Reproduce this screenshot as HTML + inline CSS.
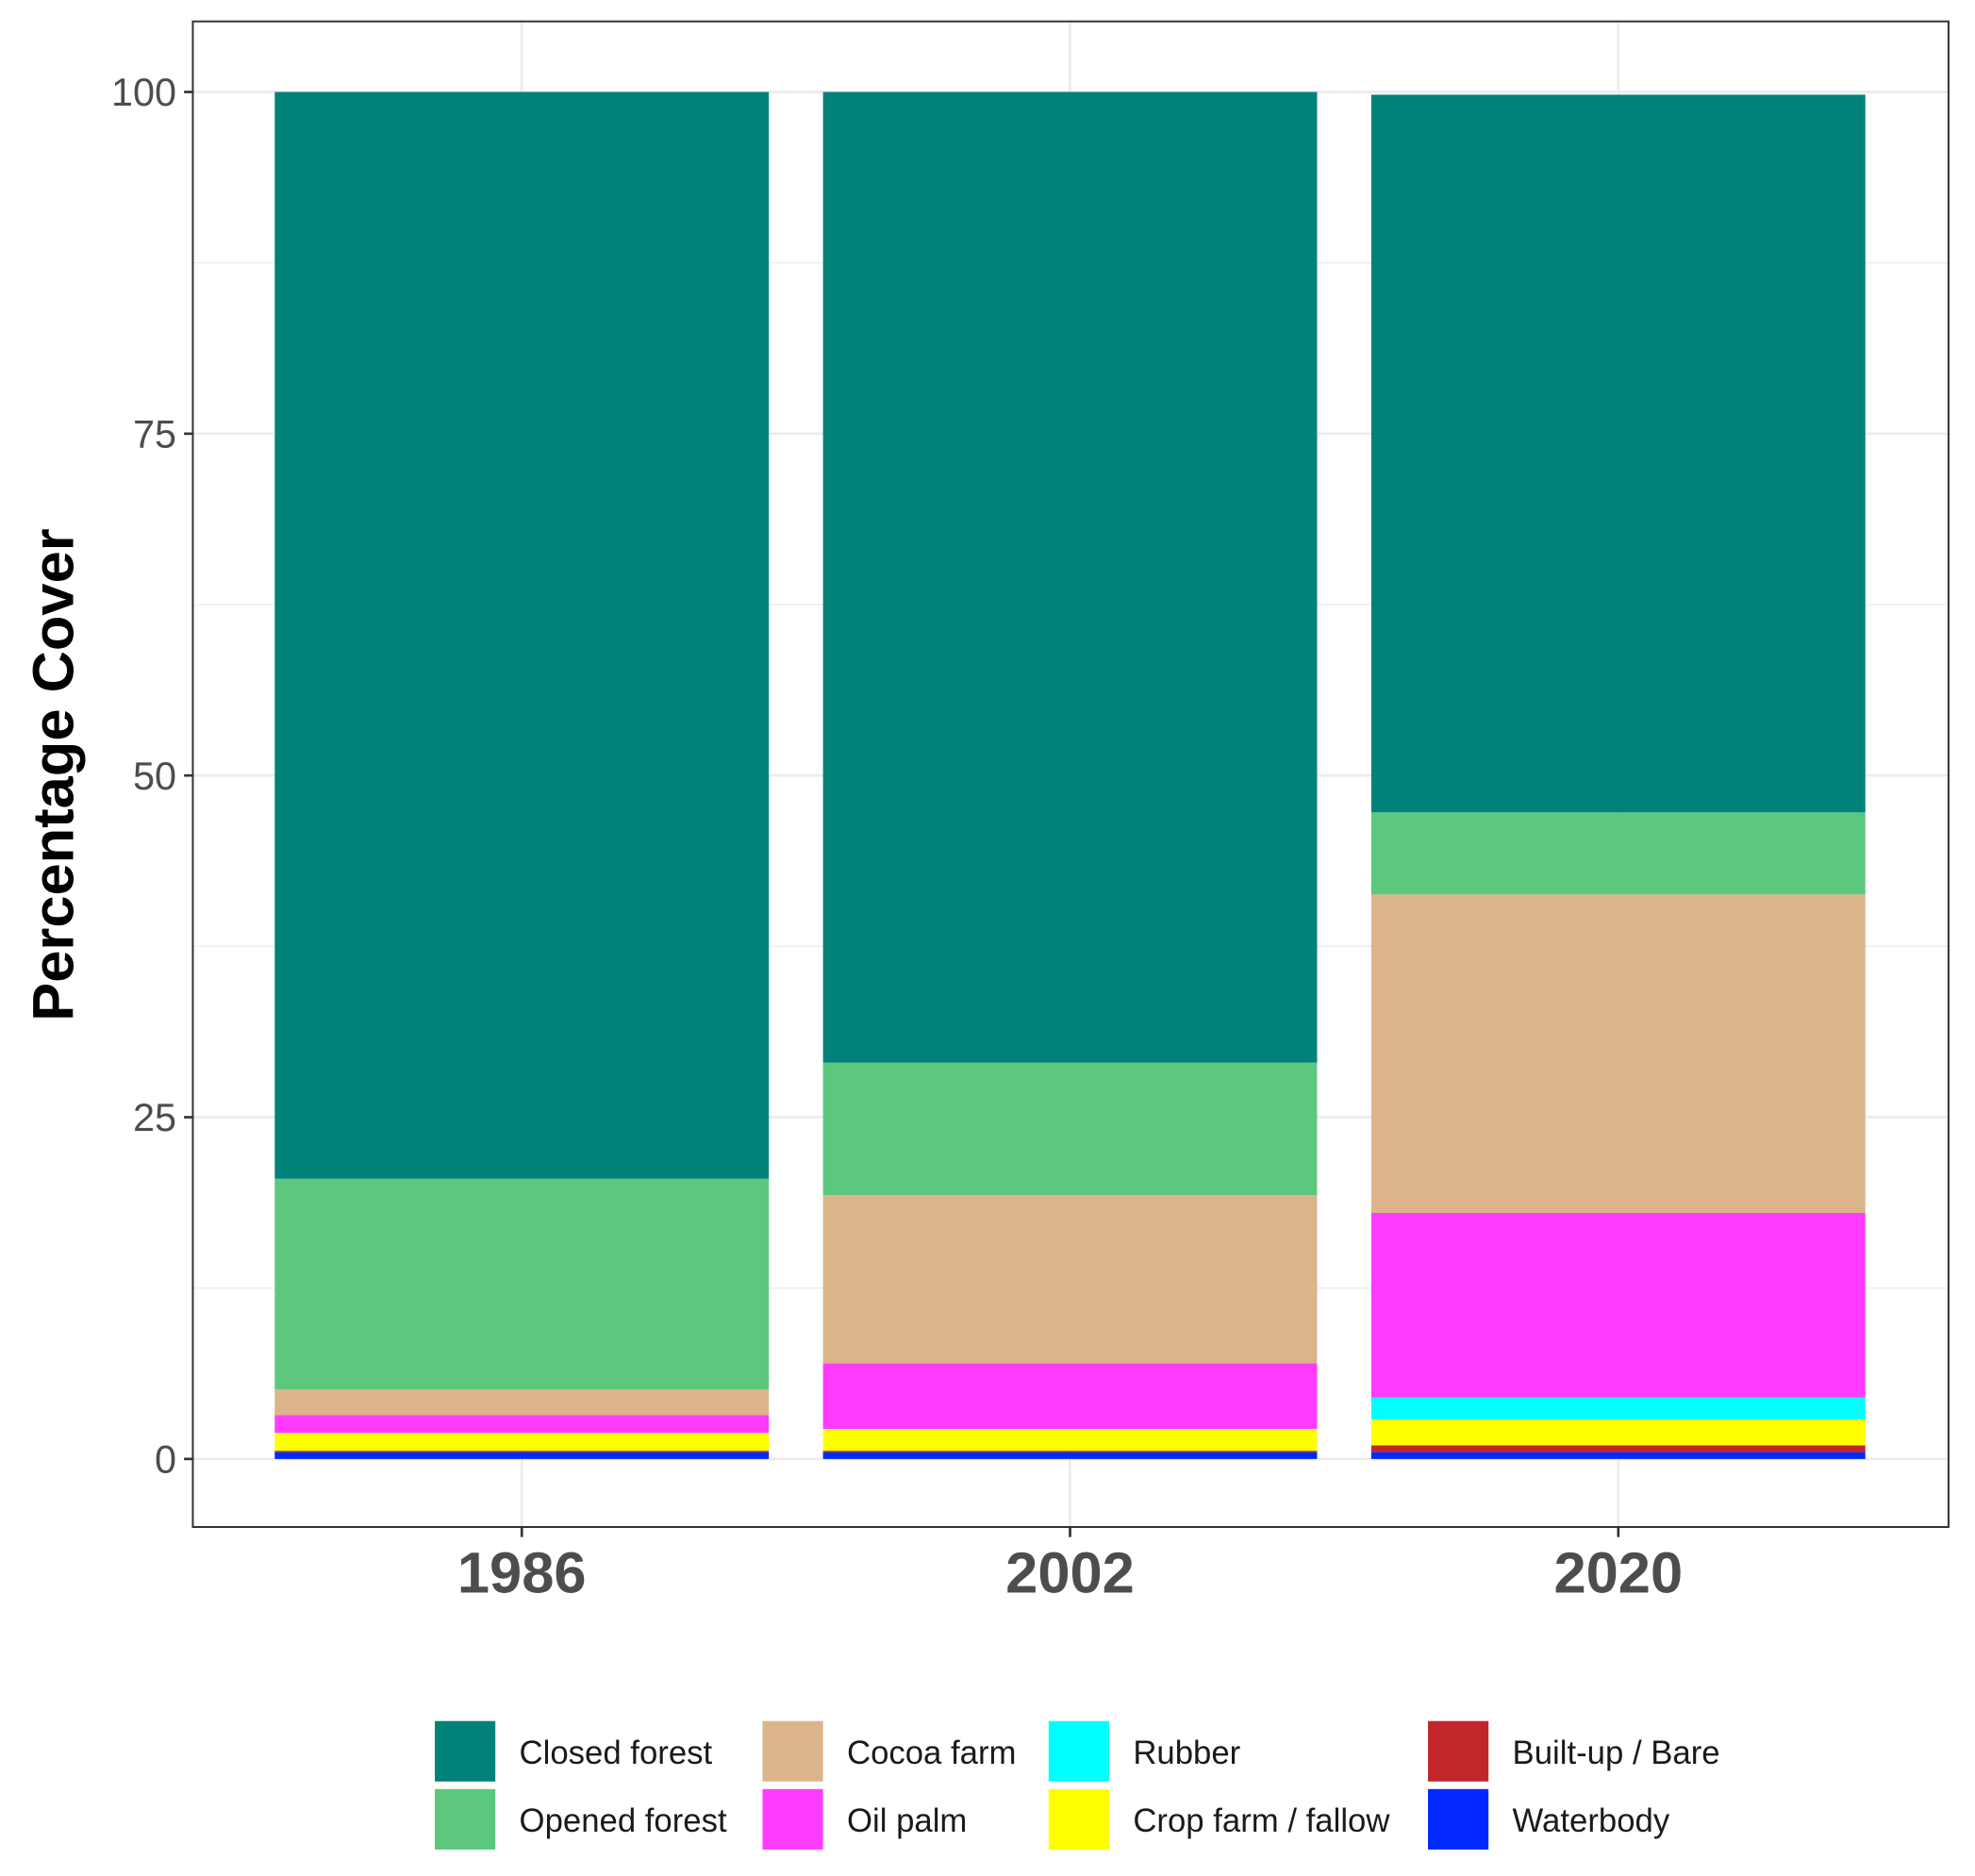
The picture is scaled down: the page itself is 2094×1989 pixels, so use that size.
<!DOCTYPE html>
<html><head><meta charset="utf-8"><style>
html,body{margin:0;padding:0;background:#fff;}
svg{display:block;font-family:"Liberation Sans",Arial,sans-serif;}
</style></head><body>
<svg id="chart" width="2094" height="1989" viewBox="0 0 1567 1489" preserveAspectRatio="none" xmlns="http://www.w3.org/2000/svg">
<rect x="0" y="0" width="1567" height="1489" fill="#fff"/>
<g id="grid"></g>
<g id="bars"></g>
<rect x="153" y="17" width="1393" height="1195" fill="none" stroke="#333" stroke-width="1.5"/>
<g id="axes"></g>
<text transform="translate(58,615) rotate(-90)" text-anchor="middle" font-size="46" font-weight="bold" fill="#000">Percentage Cover</text>
<g id="legend"></g>
</svg>
<script>
const years = ["1986","2002","2020"];
const classes = ["Waterbody","Built-up / Bare","Crop farm / fallow","Rubber","Oil palm","Cocoa farm","Opened forest","Closed forest"];
const colors = ["#0028ff","#c0262a","#ffff00","#00ffff","#ff3bff","#dcb48a","#5bc87e","#00827a"];
const waterbody = [0.5,0.5,0.5];
const builtup = [0.1,0.1,0.5];
const cropfarm = [1.3,1.6,1.9];
const rubber = [0,0,1.6];
const oilpalm = [1.3,4.8,13.5];
const cocoa = [1.9,12.3,23.3];
const opened = [15.4,9.7,6.0];
const closed = [79.5,71.0,52.5];
const yTicks = [0,25,50,75,100];
const series = [waterbody,builtup,cropfarm,rubber,oilpalm,cocoa,opened,closed];
const NS="http://www.w3.org/2000/svg";
const y = v => 1158 - v*10.85;
const xc = i => 414 + i*435;
const bw = 392;
function mk(tag, attrs, parent){const e=document.createElementNS(NS,tag);for(const k in attrs)e.setAttribute(k,attrs[k]);parent.appendChild(e);return e;}
const grid=document.getElementById('grid'), bars=document.getElementById('bars'), axes=document.getElementById('axes'), legend=document.getElementById('legend');
for(let v=0; v<=100; v+=12.5){
  const l=mk('line',{x1:153,x2:1546,y1:y(v),y2:y(v),stroke:'#ebebeb','stroke-width':(v%25===0)?2:1},grid);
  
  
}
years.forEach((yr,i)=>{
  const l=mk('line',{x1:xc(i),x2:xc(i),y1:17,y2:1212,stroke:'#ebebeb','stroke-width':2},grid);
  
  
  let cum=0;
  series.forEach((s,k)=>{
    const v=s[i]; if(v<=0){return;}
    const r=mk('rect',{x:xc(i)-bw/2,y:y(cum+v),width:bw,height:v*10.85,fill:colors[k]},bars);
    
    
    cum+=v;
  });
  const t=mk('line',{x1:xc(i),x2:xc(i),y1:1212,y2:1220,stroke:'#333','stroke-width':2},axes);
  
  
  const tx=mk('text',{x:xc(i),y:1264,'text-anchor':'middle','font-size':46,'font-weight':'bold',fill:'#4d4d4d'},axes);
  tx.textContent=yr;
  
  
});
yTicks.forEach(v=>{
  const t=mk('line',{x1:146,x2:153,y1:y(v),y2:y(v),stroke:'#333','stroke-width':2},axes);
  
  
  const tx=mk('text',{x:140,y:y(v)+11,'text-anchor':'end','font-size':31,fill:'#4d4d4d'},axes);
  tx.textContent=String(v);
  
  
});
const legOrder=[7,6,5,4,3,2,1,0];
const colX=[345,605,832,1133], rowY=[1366,1420];
legOrder.forEach((k,j)=>{
  const c=Math.floor(j/2), r=j%2;
  const rr=mk('rect',{x:colX[c],y:rowY[r],width:48,height:48,fill:colors[k]},legend);
  
  
  const tx=mk('text',{x:colX[c]+67,y:rowY[r]+34,'font-size':26,fill:'#1a1a1a'},legend);
  tx.textContent=classes[k];
  
  
});
</script>
</body></html>
